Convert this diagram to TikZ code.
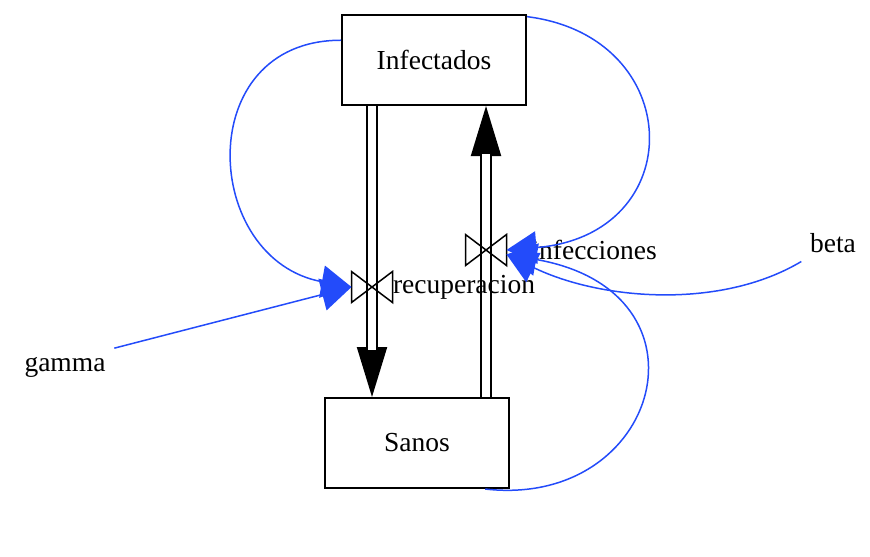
\documentclass[tikz,border=0pt]{standalone}
\usepackage{fontspec}
\setmainfont{Liberation Serif}
\usetikzlibrary{arrows.meta,calc}
\definecolor{linkblue}{RGB}{35,75,250}
\tikzset{
    stock/.style={draw, line width=0.8pt, minimum width=73.6pt, minimum height=36pt,
        font=\fontsize{11}{13}\selectfont},
    valve/.style={minimum width=16pt, minimum height=12pt, inner sep=0pt},
    flowline/.style={draw, line width=0.8pt, double, double distance=3.2pt},
    flowtip/.style={-{Triangle[length=20pt,width=12pt]}, line width=0.8pt},
    link/.style={draw=linkblue, line width=0.6pt, -{Triangle[length=12pt,width=13pt]}},
    lbl/.style={font=\fontsize{11}{13}\selectfont}
}

\begin{document}
\begin{tikzpicture}[x=0.4pt, y=-0.4pt]
\useasboundingbox (0,0) rectangle (870,556);

% Stocks
\node[stock] (inf) at (434,60) {Infectados};
\node[stock] (san) at (417,443) {Sanos};

% Valves
\node[valve] (rec) at (372,287) {};
\node[valve] (infec) at (486,250) {};

% Flow recuperacion (Infectados -> Sanos)
\coordinate (recTop) at (inf.south -| rec);
\coordinate (recBot) at (san.north -| rec);
\draw[flowtip] ($(recBot)!20pt!(recTop)$) -- (recBot);
\draw[flowline, shorten >=19pt] (recTop) -- (recBot);

% Flow infecciones (Sanos -> Infectados)
\coordinate (infecBot) at (san.north -| infec);
\coordinate (infecTop) at (inf.south -| infec);
\draw[flowtip] ($(infecTop)!20pt!(infecBot)$) -- (infecTop);
\draw[flowline, shorten >=19pt] (infecBot) -- (infecTop);

% Bowties
\foreach \v in {rec,infec}
    \draw[line width=0.6pt] (\v.north west) -- (\v.south east) -- (\v.north east) -- (\v.south west) -- cycle;

% Labels
\node[lbl, inner sep=0pt, anchor=west] (reclbl) at (rec.east) {recuperacion};
\node[lbl, inner sep=0pt, anchor=west] (infeclbl) at (531,250) {infecciones};
\node[lbl] (gamma) at (65,367) {gamma};
\node[lbl] (beta) at (833,243) {beta};

% Links
\draw[link] (gamma.north east) -- (rec.west);
\draw[link] (inf.168) .. controls +(-150,0) and +(-150,-27) .. (rec.west);
\draw[link] (inf.25) .. controls +(160,20) and +(184,-15) .. (infec.east);
\draw[link] (beta.south west) .. controls (720,310) and (600,300) .. (infec.-12);
\draw[link] (san.-34) .. controls +(175,20) and +(214,37) .. (infec.-12);

\end{tikzpicture}
\end{document}
